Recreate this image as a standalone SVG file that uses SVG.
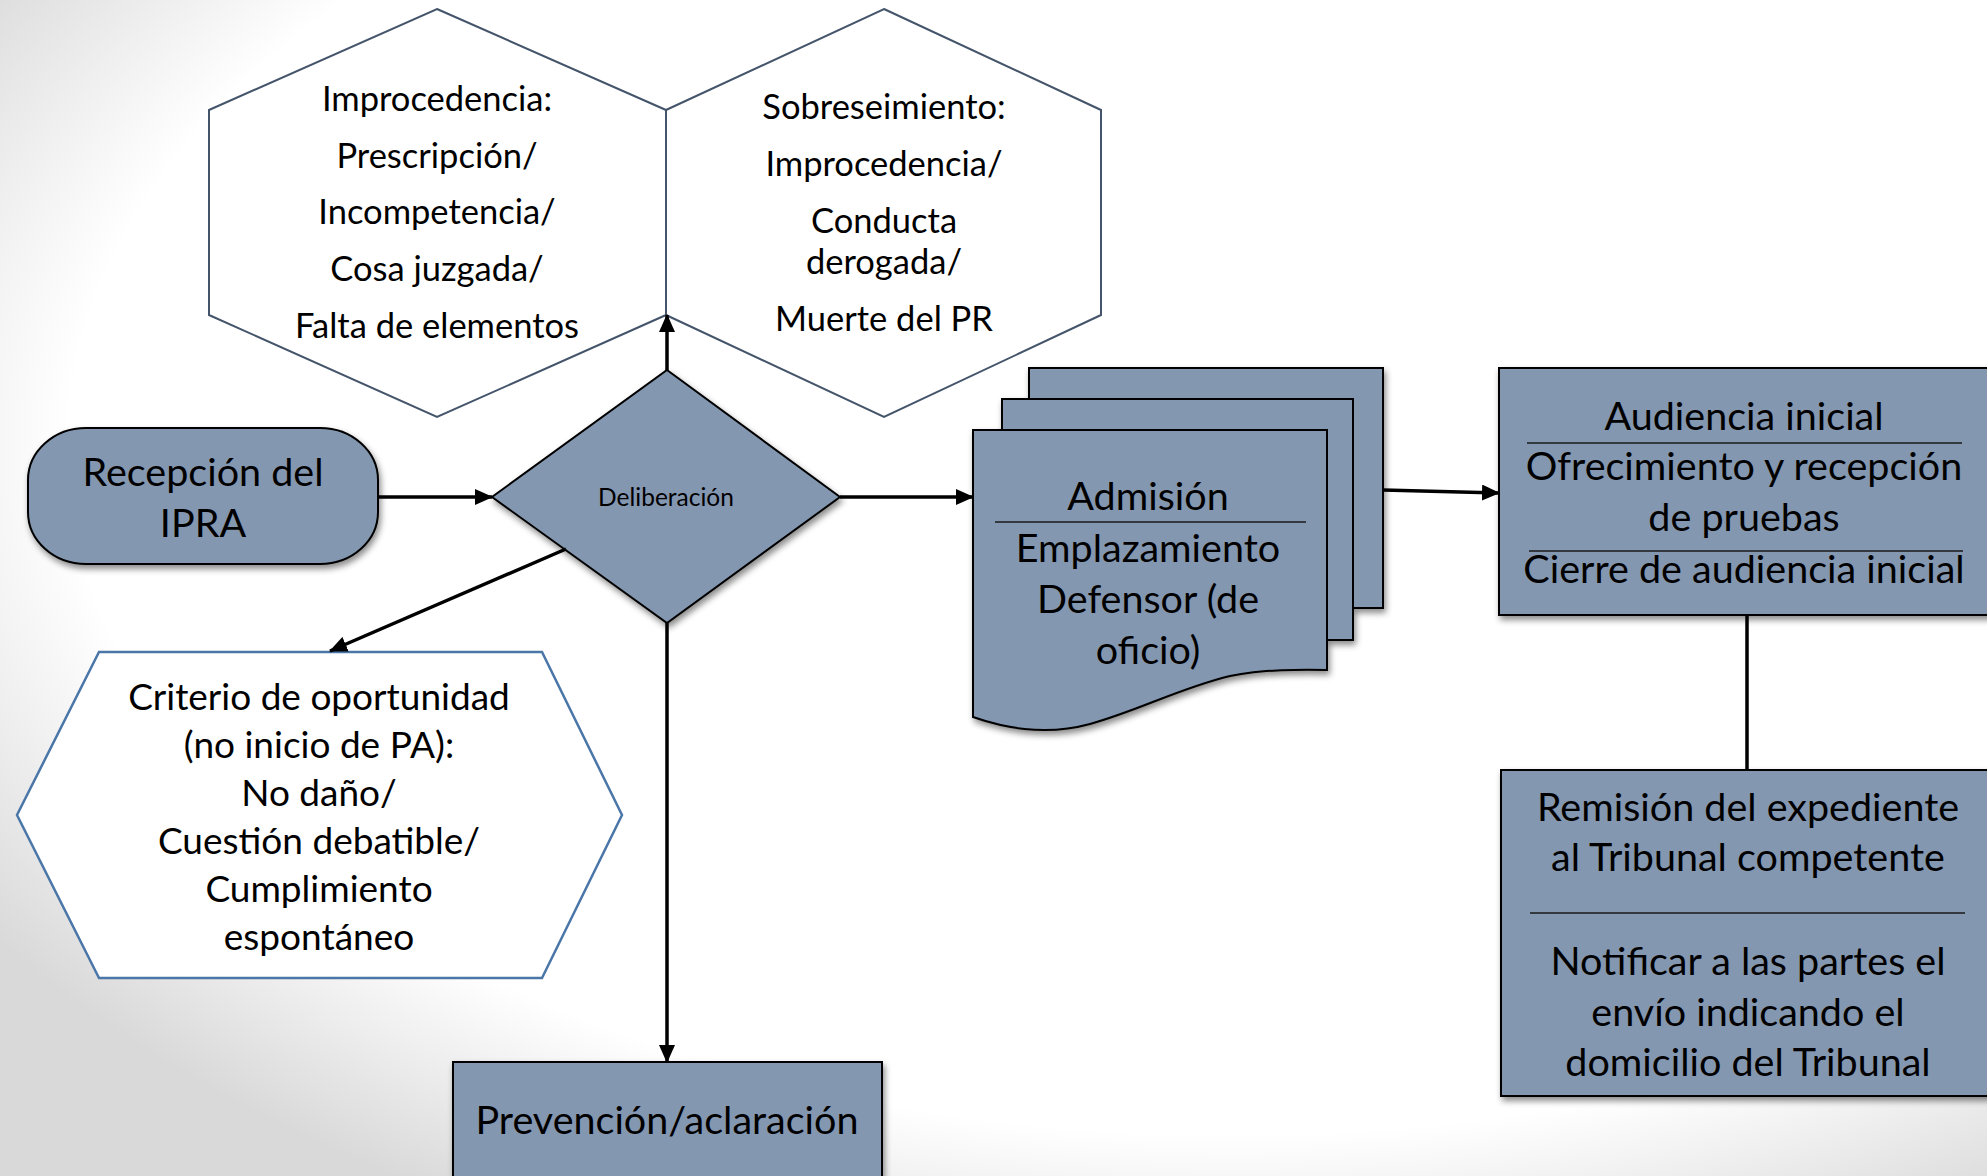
<svg xmlns="http://www.w3.org/2000/svg" width="1987" height="1176" viewBox="0 0 1987 1176">
  <defs>
    <radialGradient id="bg" cx="0.62" cy="0.38" r="0.75">
      <stop offset="0.78" stop-color="#ffffff"/>
      <stop offset="1" stop-color="#d9d9d9"/>
    </radialGradient>
    <filter id="shadow" x="-10%" y="-10%" width="120%" height="130%">
      <feDropShadow dx="2" dy="4" stdDeviation="3" flood-color="#000" flood-opacity="0.45"/>
    </filter>
    <marker id="arrow" markerUnits="userSpaceOnUse" markerWidth="18" markerHeight="16" refX="17" refY="8" orient="auto">
      <path d="M0,0 L18,8 L0,16 Z" fill="#000"/>
    </marker>
    <style>
      text { font-family: Lato, "Open Sans", "Liberation Sans", sans-serif; fill: #000; text-anchor: middle; }
      .fill { fill: #8497b0; stroke: #000; stroke-width: 2; }
      .hexa { fill: #fff; stroke: #44546a; stroke-width: 2; }
      .hexb { fill: #fff; stroke: #4a76a8; stroke-width: 2.5; }
      .sep { stroke: #1a1a1a; stroke-width: 1.3; }
      .conn { stroke: #000; stroke-width: 3.5; fill: none; }
      .th { font-size: 34.5px; }
      .tc { font-size: 37px; }
      .tb { font-size: 39.5px; }
    </style>
  </defs>

  <rect x="0" y="0" width="1987" height="1176" fill="url(#bg)"/>

  <g id="hex-improcedencia">
    <polygon class="hexa" points="437,9 666,110 666,315 437,417 209,315 209,110"/>
    <text class="th" x="437" y="111">Improcedencia:</text>
    <text class="th" x="437" y="168">Prescripción/</text>
    <text class="th" x="437" y="224">Incompetencia/</text>
    <text class="th" x="437" y="281">Cosa juzgada/</text>
    <text class="th" x="437" y="338">Falta de elementos</text>
  </g>

  <g id="hex-sobreseimiento">
    <polygon class="hexa" points="884,9 1101,110 1101,315 884,417 666,315 666,110"/>
    <text class="th" x="884" y="119">Sobreseimiento:</text>
    <text class="th" x="884" y="176">Improcedencia/</text>
    <text class="th" x="884" y="233">Conducta</text>
    <text class="th" x="884" y="274">derogada/</text>
    <text class="th" x="884" y="331">Muerte del PR</text>
  </g>

  <g id="recepcion">
    <rect class="fill" x="28" y="428" width="350" height="136" rx="58" ry="52" filter="url(#shadow)"/>
    <text class="tb" x="203" y="486">Recepción del</text>
    <text class="tb" x="203" y="537">IPRA</text>
  </g>

  <g id="deliberacion">
    <polygon class="fill" points="667,370 840,497 667,623 492,497" stroke-width="1.5" filter="url(#shadow)"/>
    <text x="666" y="506" font-size="24.5px">Deliberación</text>
  </g>

  <g id="admision">
    <g filter="url(#shadow)">
      <rect class="fill" x="1029" y="368" width="354" height="240"/>
      <rect class="fill" x="1002" y="399" width="351" height="241"/>
      <path class="fill" d="M973,430 H1327 V670 C1290,669 1260,670 1230,676 C1180,688 1140,710 1090,724 C1050,735 1010,730 973,717 Z"/>
    </g>
    <text class="tb" x="1148" y="510">Admisión</text>
    <line class="sep" x1="995" y1="522" x2="1306" y2="522"/>
    <text class="tb" x="1148" y="562">Emplazamiento</text>
    <text class="tb" x="1148" y="613">Defensor (de</text>
    <text class="tb" x="1148" y="664">oficio)</text>
  </g>

  <g id="audiencia">
    <rect class="fill" x="1499" y="368" width="520" height="247" filter="url(#shadow)"/>
    <text class="tb" x="1744" y="430">Audiencia inicial</text>
    <line class="sep" x1="1527" y1="443" x2="1962" y2="443"/>
    <text class="tb" x="1744" y="480">Ofrecimiento y recepción</text>
    <text class="tb" x="1744" y="531">de pruebas</text>
    <line class="sep" x1="1529" y1="551" x2="1963" y2="551"/>
    <text class="tb" x="1744" y="583">Cierre de audiencia inicial</text>
  </g>

  <g id="remision">
    <rect class="fill" x="1501" y="770" width="520" height="326" filter="url(#shadow)"/>
    <text class="tb" x="1748" y="821">Remisión del expediente</text>
    <text class="tb" x="1748" y="871">al Tribunal competente</text>
    <line class="sep" x1="1530" y1="913" x2="1965" y2="913"/>
    <text class="tb" x="1748" y="975">Notificar a las partes el</text>
    <text class="tb" x="1748" y="1026">envío indicando el</text>
    <text class="tb" x="1748" y="1076">domicilio del Tribunal</text>
  </g>

  <g id="criterio">
    <polygon class="hexb" points="99,652 542,652 622,815 542,978 99,978 17,815"/>
    <text class="tc" x="319" y="710">Criterio de oportunidad</text>
    <text class="tc" x="319" y="758">(no inicio de PA):</text>
    <text class="tc" x="319" y="806">No daño/</text>
    <text class="tc" x="319" y="854">Cuestión debatible/</text>
    <text class="tc" x="319" y="902">Cumplimiento</text>
    <text class="tc" x="319" y="950">espontáneo</text>
  </g>

  <g id="prevencion">
    <rect class="fill" x="453" y="1062" width="429" height="200" filter="url(#shadow)"/>
    <text class="tb" x="667" y="1134">Prevención/aclaración</text>
  </g>

  <g id="connectors">
    <line class="conn" x1="379" y1="497" x2="492" y2="497" marker-end="url(#arrow)"/>
    <line class="conn" x1="840" y1="497" x2="973" y2="497" marker-end="url(#arrow)"/>
    <line class="conn" x1="1383" y1="490" x2="1499" y2="493" marker-end="url(#arrow)"/>
    <line class="conn" x1="1747" y1="615" x2="1747" y2="770"/>
    <line class="conn" x1="667" y1="370" x2="667" y2="315" marker-end="url(#arrow)"/>
    <line class="conn" x1="667" y1="623" x2="667" y2="1062" marker-end="url(#arrow)"/>
    <line class="conn" x1="566" y1="549" x2="330" y2="651" marker-end="url(#arrow)"/>
  </g>
</svg>
